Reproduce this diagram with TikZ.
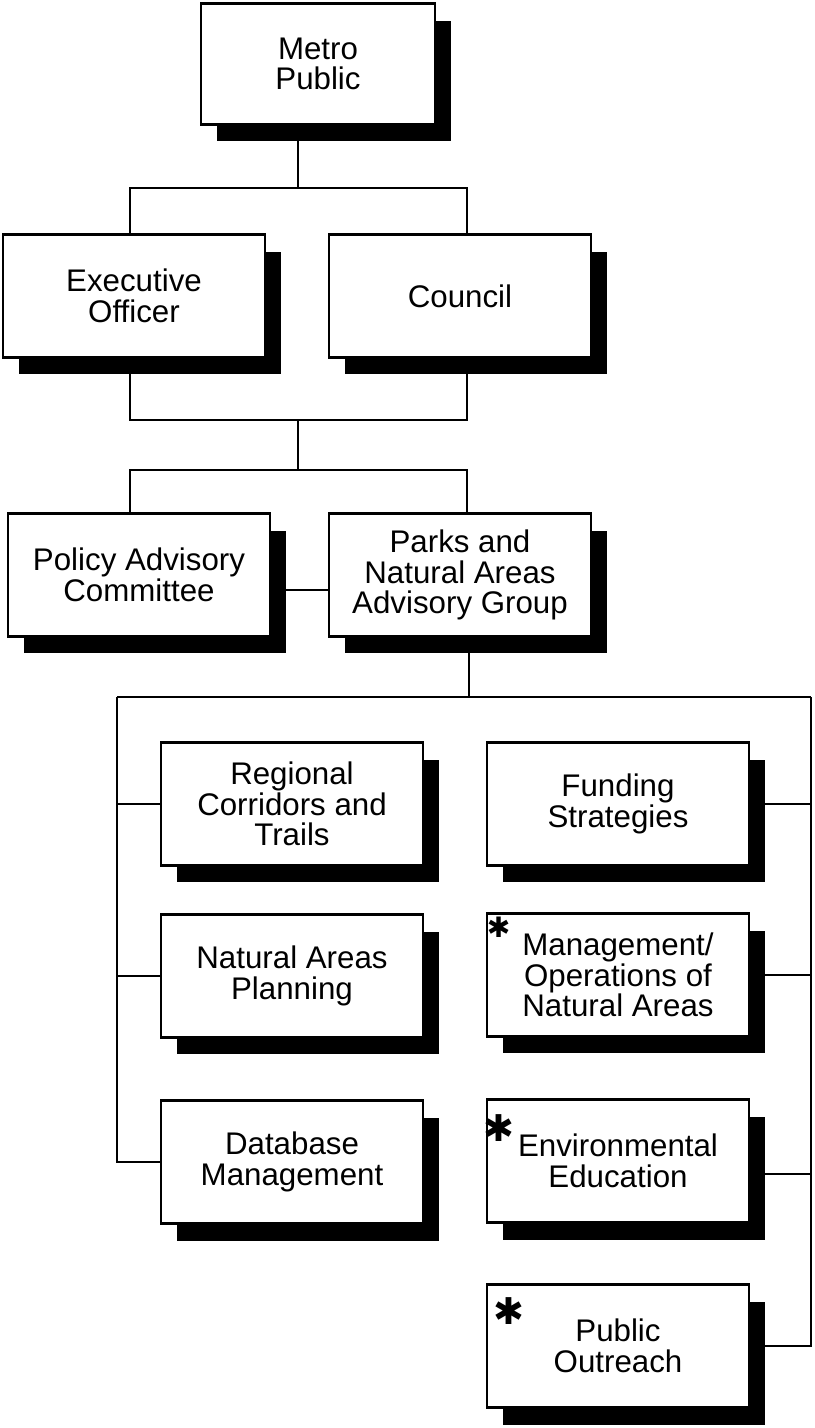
\documentclass[tikz,border=0pt]{standalone}
\usepackage{fontspec}
\setmainfont{Liberation Sans}
\newfontfamily\dingfont{DejaVu Sans}
\usetikzlibrary{shadows}
\tikzset{
  orgbox/.style={draw, line width=1.6pt, fill=white, align=center,
    minimum width=5.24cm, minimum height=2.46cm, inner sep=2pt,
    font=\fontsize{17.8}{17.4}\selectfont,
    drop shadow={shadow xshift=0.32cm, shadow yshift=-0.34cm, fill=black, opacity=1}},
  link/.style={line width=1.3pt},
  starmark/.style={inner sep=0pt, font=\dingfont\fontsize{21}{21}\selectfont}
}
\begin{document}
\begin{tikzpicture}[x=0.02cm, y=-0.02cm]
    \useasboundingbox (0, 0) rectangle (815, 1428);
	\node[orgbox, minimum width=4.68cm, minimum height=2.42cm] (metro) at (318, 64) {Metro\\Public};
	\node[orgbox] (exec) at (134, 296) {Executive\\Officer};
	\node[orgbox] (council) at (460, 296) {Council};
	\node[orgbox] (policy) at (139, 575) {Policy Advisory\\Committee};
	\node[orgbox] (parks) at (460, 575) {Parks and\\Natural Areas\\Advisory Group};
	\node[orgbox] (regional) at (292, 804) {Regional\\Corridors and\\Trails};
	\node[orgbox] (funding) at (618, 804) {Funding\\Strategies};
	\node[orgbox] (natplan) at (292, 976) {Natural Areas\\Planning};
	\node[orgbox] (mgmt) at (618, 975) {Management/\\Operations of\\Natural Areas};
	\node[orgbox] (database) at (292, 1162) {Database\\Management};
	\node[orgbox] (enved) at (618, 1161) {Environmental\\Education};
	\node[orgbox] (outreach) at (618, 1346) {Public\\Outreach};
	\node[starmark, font=\dingfont\fontsize{16}{16}\selectfont] (mgmtstar) at ([xshift=0.26cm, yshift=-0.3cm]mgmt.north west) {✱};
	\node[starmark] (envedstar) at ([xshift=0.27cm, yshift=-0.6cm]enved.north west) {✱};
	\node[starmark] (outreachstar) at ([xshift=0.46cm, yshift=-0.56cm]outreach.north west) {✱};
	\coordinate (j1) at (298, 188);
	\coordinate (j1l) at (130, 188);
	\coordinate (j1r) at (467, 188);
	\coordinate (j2) at (298, 420);
	\coordinate (j2l) at (130, 420);
	\coordinate (j2r) at (467, 420);
	\coordinate (j3) at (298, 470);
	\coordinate (j3l) at (130, 470);
	\coordinate (j3r) at (467, 470);
	\coordinate (pp) at (300, 590);
	\coordinate (j4) at (469, 697);
	\coordinate (j4l) at (117, 697);
	\coordinate (j4r) at (811, 697);
	\coordinate (envbr) at (811, 1174);
	\draw[link] (metro.south -| j1) -- (j1);
	\draw[link] (exec.north -| j1l) |- (j1r) -- (council.north -| j1r);
	\draw[link] (exec.south -| j2l) |- (j2r) -- (council.south -| j2r);
	\draw[link] (j2) -- (j3);
	\draw[link] (policy.north -| j3l) |- (j3r) -- (parks.north -| j3r);
	\draw[link] (policy.east |- pp) -- (parks.west |- pp);
	\draw[link] (parks.south -| j4) -- (j4);
	\draw[link] (j4l) -- (j4r);
	\draw[link] (j4l) |- (database.west);
	\draw[link] (regional.west) -- (regional.west -| j4l);
	\draw[link] (natplan.west) -- (natplan.west -| j4l);
	\draw[link] (j4r) |- (outreach.east);
	\draw[link] (funding.east) -- (funding.east -| j4r);
	\draw[link] (mgmt.east) -- (mgmt.east -| j4r);
	\draw[link] (enved.east |- envbr) -- (envbr);
    \end{tikzpicture}
\end{document}
